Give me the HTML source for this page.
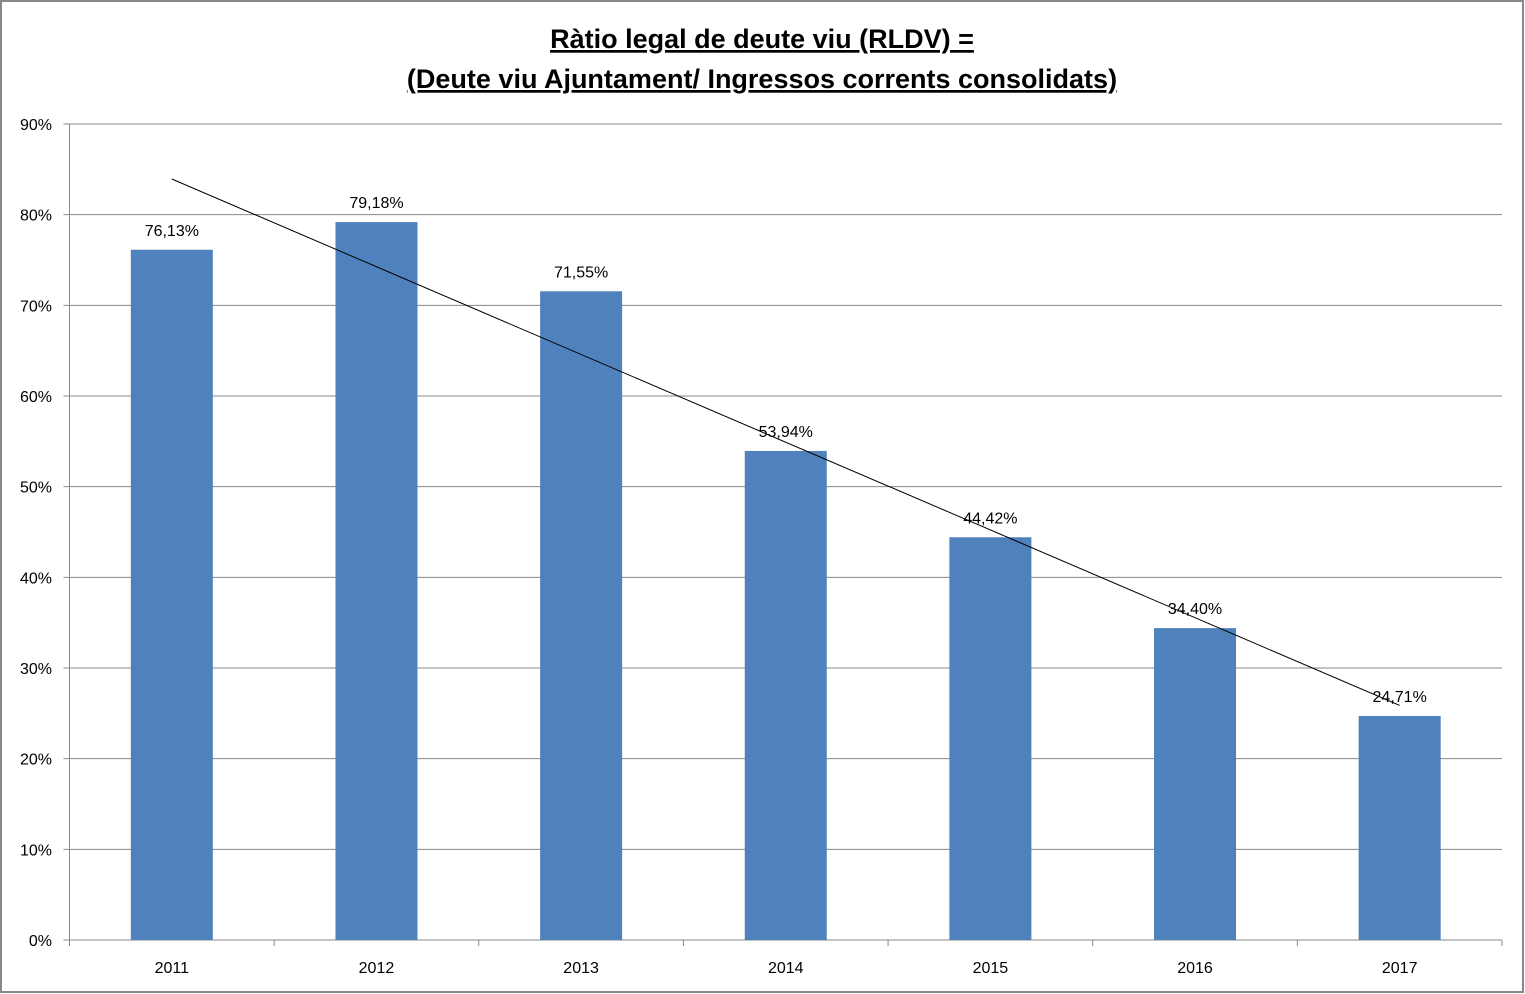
<!DOCTYPE html>
<html><head><meta charset="utf-8"><style>
html,body{margin:0;padding:0;background:#fff;}
svg{display:block;font-family:"Liberation Sans",sans-serif;}
</style></head><body>
<svg id="chart" width="1525" height="994">
<rect x="1" y="1" width="1522" height="991" fill="#fff" stroke="#888" stroke-width="2"/>
<text x="762" y="48" text-anchor="middle" font-size="27" font-weight="bold" text-decoration="underline">Ràtio legal de  deute viu (RLDV) =</text>
<text x="762" y="88" text-anchor="middle" font-size="27" font-weight="bold" text-decoration="underline">(Deute viu Ajuntament/ Ingressos corrents consolidats)</text>
<g id="grid"></g><g id="bars"></g><g id="axes"></g>
</svg>
<script>
const categories=["2011","2012","2013","2014","2015","2016","2017"];
const values=[76.13,79.18,71.55,53.94,44.42,34.40,24.71];
const valueLabels=["76,13%","79,18%","71,55%","53,94%","44,42%","34,40%","24,71%"];
const yTicks=[0,10,20,30,40,50,60,70,80,90];
const NS="http://www.w3.org/2000/svg";
const X0=69.5,X1=1502,Y0=940,Y1=124,YMAX=90;
const cw=(X1-X0)/categories.length;
const y=v=>Y0-(v/YMAX)*(Y0-Y1);
const xc=i=>X0+cw*(i+0.5);
function mk(tag,attrs,parent){const e=document.createElementNS(NS,tag);for(const k in attrs)e.setAttribute(k,attrs[k]);parent.appendChild(e);return e;}
const grid=document.getElementById('grid'),bars=document.getElementById('bars'),axes=document.getElementById('axes');
yTicks.forEach(t=>{
  const l=mk('line',{x1:X0-6,x2:X1,y1:y(t),y2:y(t),stroke:'#888','stroke-width':1},grid);
  
  
  const tx=mk('text',{x:52,y:y(t)+6,'text-anchor':'end','font-size':16,fill:'#000'},axes);
  tx.textContent=t+'%';
  
  
});
const ya=mk('line',{x1:X0,x2:X0,y1:Y1,y2:Y0,stroke:'#888'},axes);


for(let i=0;i<=categories.length;i++){
  const t=mk('line',{x1:X0+cw*i,x2:X0+cw*i,y1:Y0,y2:Y0+6,stroke:'#888'},axes);
  
  
}
const bw=82;
categories.forEach((c,i)=>{
  const r=mk('rect',{x:xc(i)-bw/2,y:y(values[i]),width:bw,height:Y0-y(values[i]),fill:'#4f81bd'},bars);
  
  
  const vl=mk('text',{x:xc(i),y:y(values[i])-14,'text-anchor':'middle','font-size':16},axes);
  vl.textContent=valueLabels[i];
  
  
  const xl=mk('text',{x:xc(i),y:973,'text-anchor':'middle','font-size':16},axes);
  xl.textContent=c;
  
  
});
// linear trendline
const n=values.length,mx=(n+1)/2,my=values.reduce((a,b)=>a+b,0)/n;
let sxy=0,sxx=0;values.forEach((v,i)=>{sxy+=(i+1-mx)*(v-my);sxx+=(i+1-mx)**2;});
const sl=sxy/sxx,ic=my-sl*mx;
const tl=mk('line',{x1:xc(0),y1:y(ic+sl*1),x2:xc(n-1),y2:y(ic+sl*n),stroke:'#000','stroke-width':1},axes);


</script>
</body></html>
